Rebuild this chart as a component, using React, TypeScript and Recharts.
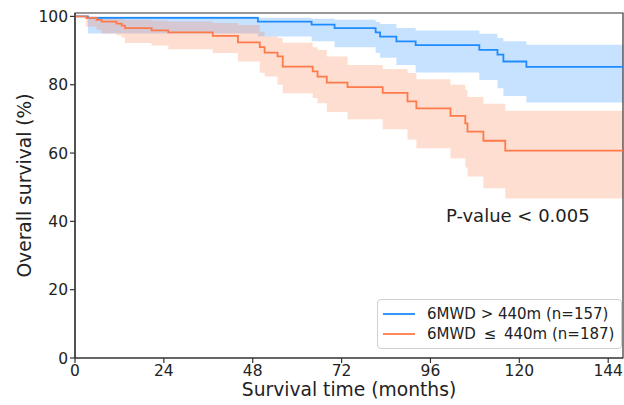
import React from 'react';
import { ComposedChart, Line, Area, XAxis, YAxis, ReferenceArea, Legend } from 'recharts';

// Group: 6MWD > 440m (n=157)
const highTimes = [0, 3.5, 49.4, 63.9, 70.1, 81.2, 82.4, 86.8, 92.0, 109.2, 114.1, 115.7, 121.9, 148];
const highSurv = [100, 99.6, 98.5, 97.6, 96.6, 95.3, 94.1, 92.7, 91.6, 90.2, 88.8, 86.8, 85.2, 85.2];
const highUpper = [100, 100, 99.6, 99.3, 99.0, 98.4, 97.8, 96.6, 95.9, 94.9, 93.7, 92.7, 91.7, 91.7];
const highLower = [100, 95.0, 94.1, 92.7, 91.0, 89.3, 87.9, 85.8, 83.6, 81.4, 79.0, 76.7, 74.8, 74.8];

// Group: 6MWD <= 440m (n=187)
const lowTimes = [0, 3.0, 5.85, 7.2, 11.2, 12.6, 13.5, 20.7, 25.2, 37.2, 44.0, 49.9, 51.2, 54.7, 56.1, 64.2, 65.5, 68.0, 73.6, 83.1, 89.8, 92.2, 101.4, 105.4, 106.0, 110.3, 116.2, 148];
const lowSurv = [100, 99.6, 99.0, 98.5, 97.9, 97.3, 96.6, 95.9, 95.3, 94.3, 92.4, 91.0, 89.4, 88.3, 85.3, 83.9, 82.4, 80.6, 79.3, 77.6, 75.1, 73.1, 70.9, 68.7, 66.3, 63.6, 60.7, 60.7];
const lowUpper = [100, 100, 99.8, 99.6, 99.4, 99.2, 99.0, 98.8, 98.5, 98.1, 97.5, 95.5, 94.1, 93.7, 92.3, 91.0, 90.2, 88.3, 85.8, 84.6, 83.4, 81.6, 80.0, 78.5, 76.4, 74.4, 72.4, 72.4];
const lowLower = [100, 97.0, 96.0, 95.0, 94.5, 93.8, 92.2, 91.5, 90.4, 89.3, 86.8, 83.5, 82.4, 80.0, 77.5, 76.1, 74.6, 72.0, 69.9, 67.0, 64.0, 61.4, 58.5, 55.8, 53.1, 49.7, 46.7, 46.7];

const xTicks = [0, 24, 48, 72, 96, 120, 144];
const yTicks = [0, 20, 40, 60, 80, 100];

const highName = '6MWD > 440m (n=157)';
const lowName = '6MWD \u2009\u2264\u2009 440m (n=187)';
const pValueText = 'P-value < 0.005';

const FONT = '"DejaVu Sans", sans-serif';
const BLUE = '#1E8CFF';
const ORANGE = '#FF7A4A';

function stepValue(ts: number[], vs: number[], t: number): number {
  let idx = 0;
  for (let k = 0; k < ts.length; k++) if (ts[k] <= t) idx = k;
  return vs[idx];
}

function buildTable() {
  const times = Array.from(new Set([...highTimes, ...lowTimes])).sort((a, b) => a - b);
  return times.map((t) => ({
    t,
    high: stepValue(highTimes, highSurv, t),
    highBand: [stepValue(highTimes, highLower, t), stepValue(highTimes, highUpper, t)],
    low: stepValue(lowTimes, lowSurv, t),
    lowBand: [stepValue(lowTimes, lowLower, t), stepValue(lowTimes, lowUpper, t)],
  }));
}

const table = buildTable();

const renderLegend = (props: any) => {
  const payload = (props.payload || []).filter((p: any) => p.type !== 'none');
  return (
    <div
      style={{
        border: '1px solid #d0d0d0',
        borderRadius: 4,
        background: 'rgba(255,255,255,0.85)',
        padding: '4px 0 4px 5px',
        boxSizing: 'border-box',
        width: 245,
        height: 50,
        fontFamily: FONT,
        overflow: 'visible',
      }}
    >
      {payload.map((entry: any, i: number) => (
        <div key={i} style={{ display: 'flex', alignItems: 'center', height: 20 }}>
          <svg width={32} height={4} style={{ display: 'block', flexShrink: 0 }}>
            <line x1={0} y1={2} x2={32} y2={2} stroke={entry.color} strokeWidth={1.8} />
          </svg>
          <span style={{ marginLeft: 12, fontSize: 15, color: '#222', whiteSpace: 'pre', flexShrink: 0 }}>{entry.value}</span>
        </div>
      ))}
    </div>
  );
};

export default function App() {
  return (
    <div style={{ position: 'absolute', left: 0, top: 0, width: 624, height: 405, background: '#fff', fontFamily: FONT }}>
      <ComposedChart width={624} height={405} data={table} margin={{ top: 13, right: 1, bottom: 0, left: 0 }}>
        <XAxis
          dataKey="t"
          type="number"
          domain={[0, 148]}
          ticks={xTicks}
          allowDataOverflow
          height={47}
          tickSize={5}
          tick={{ fill: '#222', fontSize: 15.5, fontFamily: FONT }}
          axisLine={{ stroke: '#333', strokeWidth: 1.2 }}
          tickLine={{ stroke: '#333', strokeWidth: 1.2 }}
          label={{ value: 'Survival time (months)', position: 'insideBottom', offset: 9, style: { fontSize: 18.7, fill: '#222', fontFamily: FONT } }}
        />
        <YAxis
          type="number"
          domain={[0, 101]}
          ticks={yTicks}
          allowDataOverflow
          width={75}
          tickSize={5}
          tick={{ fill: '#222', fontSize: 15.5, fontFamily: FONT }}
          axisLine={{ stroke: '#333', strokeWidth: 1.2 }}
          tickLine={{ stroke: '#333', strokeWidth: 1.2 }}
          label={{ value: 'Overall survival (%)', angle: -90, position: 'center', dx: -13, style: { fontSize: 18.7, fill: '#222', fontFamily: FONT, textAnchor: 'middle' } }}
        />
        <Area dataKey="highBand" type="stepAfter" stroke="none" fill={BLUE} fillOpacity={0.25} isAnimationActive={false} legendType="none" />
        <Area dataKey="lowBand" type="stepAfter" stroke="none" fill={ORANGE} fillOpacity={0.25} isAnimationActive={false} legendType="none" />
        <Line dataKey="high" name={highName} type="stepAfter" stroke={BLUE} strokeWidth={1.8} dot={false} isAnimationActive={false} />
        <Line dataKey="low" name={lowName} type="stepAfter" stroke={ORANGE} strokeWidth={1.8} dot={false} isAnimationActive={false} />
        <ReferenceArea x1={0} x2={148} y1={0} y2={101} fill="none" stroke="#333" strokeWidth={1.2} ifOverflow="visible" />
        <Legend
          layout="horizontal"
          verticalAlign="middle"
          align="center"
          content={renderLegend}
          wrapperStyle={{ position: 'absolute', left: 377, top: 299, width: 245, height: 50 }}
        />
      </ComposedChart>
      <div style={{ position: 'absolute', left: 446, top: 205, fontSize: 18, lineHeight: '21px', color: '#222', fontFamily: FONT, whiteSpace: 'nowrap' }}>
        {pValueText}
      </div>
    </div>
  );
}
